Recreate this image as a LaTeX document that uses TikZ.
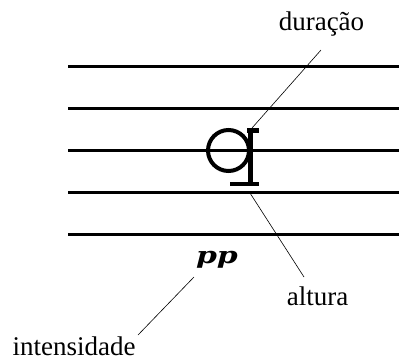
\documentclass[tikz,border=0pt]{standalone}
\usepackage{fontspec}
\setmainfont{Liberation Serif}
\newfontfamily\dynfont{DejaVu Serif}
\usetikzlibrary{positioning, calc}

\begin{document}
\begin{tikzpicture}[
    x=1pt, y=-1pt,
    % --- STYLES ---
    label text/.style={anchor=base, inner sep=0pt, font=\fontsize{27}{30}\selectfont},
    dynamic/.style={anchor=base, inner sep=0pt, font=\dynfont\bfseries\itshape\fontsize{23}{26}\selectfont},
    staff line/.style={line width=3pt},
    note part/.style={fill=black, draw=none},
    leader/.style={line width=0.6pt}
]
    \useasboundingbox (0,0) rectangle (399,360);

    % --- STAFF ---
    \foreach \y in {66,108,150,192,234}
        \draw[staff line] (68,\y) -- (399,\y);

    % --- NOTE ---
    \node[circle, draw, line width=4pt, minimum size=41pt, inner sep=0pt] (head) at (228.5,150.5) {};
    \fill[note part] (248.3,128.3) rectangle (252.9,186);
    \fill[note part] (246.7,128.3) rectangle (259.3,133.3);
    \fill[note part] (230,181.7) rectangle (259.3,186);

    % --- LABELS ---
    \node[label text] (dur) at (321.5,30) {duração};
    \node[label text] (alt) at (317.5,305) {altura};
    \node[label text] (int) at (74,355) {intensidade};
    \node[dynamic] (pp) at (217,263) {\scalebox{1.3}[1]{pp}};

    % --- LEADERS ---
    \coordinate (durend) at (321,50);
    \coordinate (durtip) at (252,128);
    \coordinate (alttip) at (250,193);
    \coordinate (altend) at (304,277);
    \coordinate (inttip) at (194,277);
    \coordinate (intend) at (138,335);

    \draw[leader] (durend) -- (durtip);
    \draw[leader] (alttip) -- (altend);
    \draw[leader] (inttip) -- (intend);

\end{tikzpicture}
\end{document}
